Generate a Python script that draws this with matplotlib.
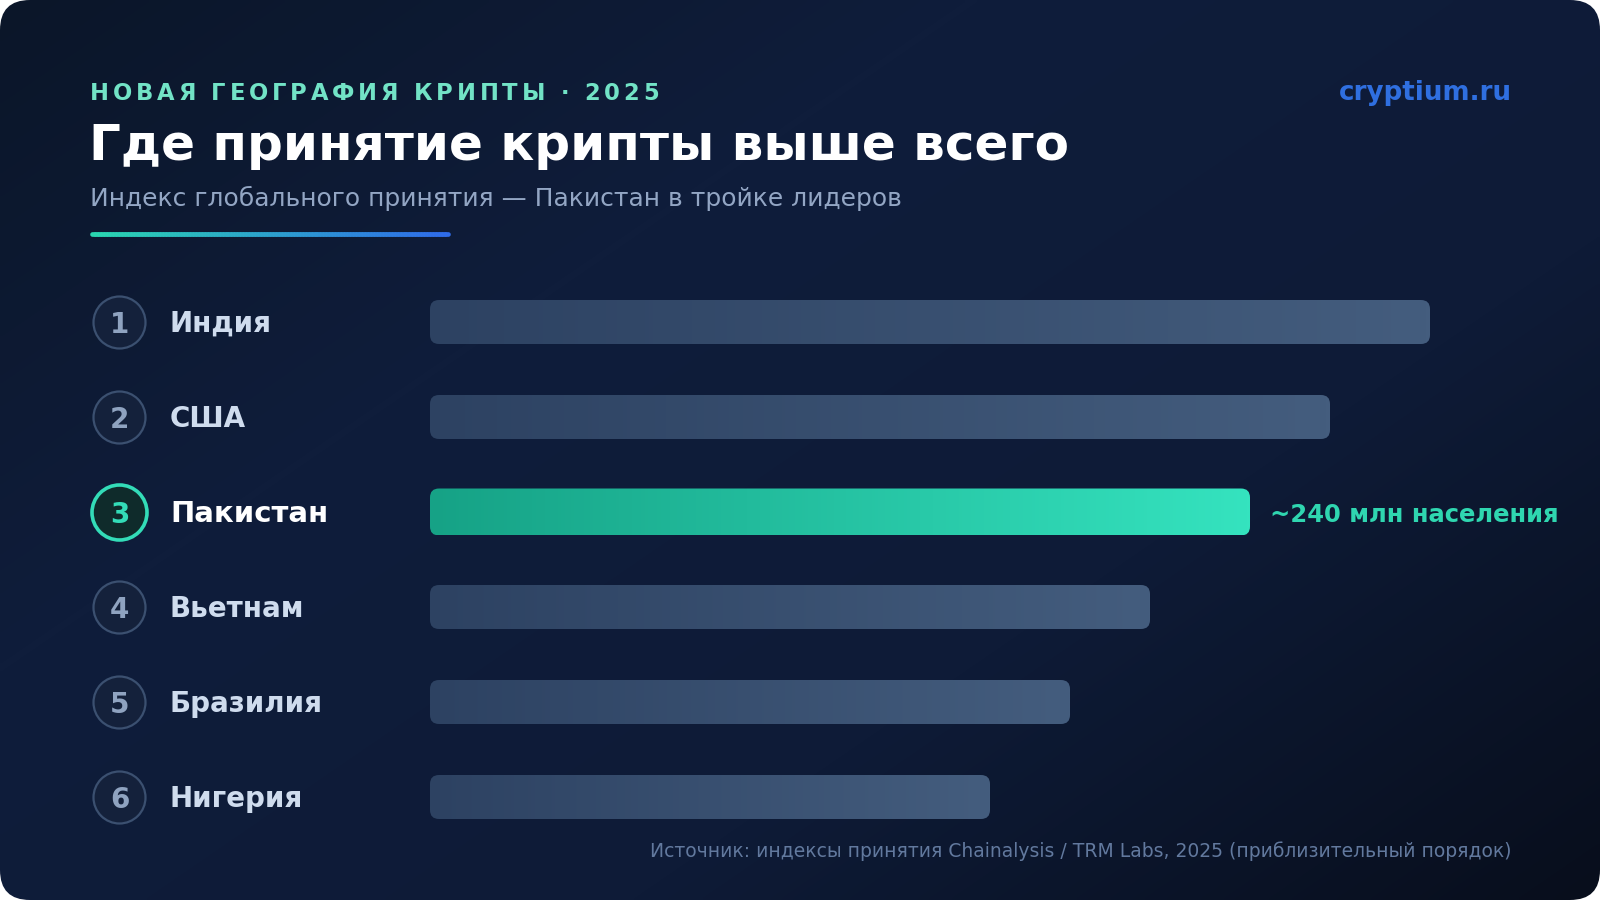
import numpy as np
import matplotlib.pyplot as plt
import matplotlib.transforms as mtransforms
from matplotlib.patches import FancyBboxPatch
from matplotlib.colors import LinearSegmentedColormap
from matplotlib.collections import LineCollection

# данные
countries = ['Индия', 'США', 'Пакистан', 'Вьетнам', 'Бразилия', 'Нигерия']
ranks = [1, 2, 3, 4, 5, 6]
scores = [100, 90, 82, 72, 64, 56]   # условный индекс принятия
highlight = 'Пакистан'
note = '~240 млн населения'

kicker = 'НОВАЯ ГЕОГРАФИЯ КРИПТЫ · 2025'
title = 'Где принятие крипты выше всего'
subtitle = 'Индекс глобального принятия — Пакистан в тройке лидеров'
brand = 'cryptium.ru'
source = 'Источник: индексы принятия Chainalysis / TRM Labs, 2025 (приблизительный порядок)'

plt.rcParams['font.family'] = ['DejaVu Sans']

W, H = 1600, 900
fig = plt.figure(figsize=(16, 9), dpi=100, facecolor='white')
ax = fig.add_axes([0, 0, 1, 1])   # оси в пикселях, начало сверху слева

# фон: диагональный градиент в скруглённой рамке
yy, xx = np.mgrid[0:1:225j, 0:1:400j]
t = (xx * 0.55 + yy * 0.45)
bg_cmap = LinearSegmentedColormap.from_list('bg', ['#0b1629', '#0f1d3b', '#0e1b37', '#080e1c'])
frame = FancyBboxPatch((0, 0), W, H, boxstyle='round,pad=0,rounding_size=30',
                       fc='none', ec='none')
ax.add_patch(frame)
im = ax.imshow(t, cmap=bg_cmap, extent=(0, W, H, 0), aspect='auto', zorder=0,
               interpolation='bilinear')
im.set_clip_path(frame)
ax.set_xlim(0, W)
ax.set_ylim(H, 0)
ax.axis('off')

fig.canvas.draw()
renderer = fig.canvas.get_renderer()

# надзаголовок с разрядкой
x = 90
for ch in kicker:
    tx = ax.text(x, 100, ch, fontsize=16.3, fontweight='bold', color='#72e3c6', va='baseline')
    w = tx.get_window_extent(renderer).width
    x += w + 3.8

ax.text(1512, 100, brand, fontsize=18.8, fontweight='bold', color='#2f6fe0',
        ha='right', va='baseline')
ax.text(89, 160, title, fontsize=36, fontweight='bold', color='white', va='baseline')
ax.text(90, 206, subtitle, fontsize=18, color='#93a6c4', va='baseline')

# градиентная черта
n = 120
xs = np.linspace(92, 448, n + 1)
segs = [[(xs[i], 234), (xs[i + 1], 234)] for i in range(n)]
line_cmap = LinearSegmentedColormap.from_list('ln', ['#2ad6b0', '#2f6ce9'])
lc = LineCollection(segs, colors=line_cmap(np.linspace(0, 1, n)), linewidths=3.4,
                    capstyle='round')
ax.add_collection(lc)

# оси для полос
bx = fig.add_axes([430 / W, (H - 844.5) / H, 1000 / W, 570 / H])
bx.set_xlim(0, 100)
bx.set_ylim(len(countries) - 0.5, -0.5)
bx.axis('off')
bx.patch.set_alpha(0)

px_x = 1000 / 100
px_y = 570 / len(countries)
grey_cmap = LinearSegmentedColormap.from_list('gr', ['#2d4262', '#445d7e'])
green_cmap = LinearSegmentedColormap.from_list('gn', ['#16a286', '#35e3bf'])
grad = np.linspace(0, 1, 256).reshape(1, -1)

blend = mtransforms.blended_transform_factory(ax.transData, bx.transData)

for i, (c, r, v) in enumerate(zip(countries, ranks, scores)):
    hl = c == highlight
    h = (47 if hl else 44) / px_y
    rad = 9 / px_x
    patch = FancyBboxPatch((0, i - h / 2), v, h,
                           boxstyle='round,pad=0,rounding_size=%f' % rad,
                           mutation_aspect=px_x / px_y, fc='none', ec='none')
    bx.add_patch(patch)
    img = bx.imshow(grad, cmap=green_cmap if hl else grey_cmap,
                    extent=(0, v, i + h / 2, i - h / 2), aspect='auto', zorder=2)
    img.set_clip_path(patch)

    # кружок с местом
    ax.scatter([119], [i], s=(55 if hl else 52) ** 2 * 0.5184, transform=blend,
               facecolor='#0f2b2b' if hl else '#14213b',
               edgecolor='#33dcb8' if hl else '#3b5070',
               linewidth=2.6 if hl else 1.6, zorder=3)
    ax.text(119.5, i, str(r), transform=blend, ha='center', va='center_baseline',
            fontsize=20, fontweight='bold',
            color='#33dcb8' if hl else '#8fa3c0', zorder=4)
    ax.text(170, i - 0.01, c, transform=blend, ha='left', va='center_baseline',
            fontsize=21 if hl else 20, fontweight='bold',
            color='white' if hl else '#cfdcee', zorder=4)
    if hl:
        bx.annotate(note, (v, i), xytext=(14.5, 0), textcoords='offset points',
                    ha='left', va='center_baseline', fontsize=17.5,
                    fontweight='bold', color='#2fd6b0', annotation_clip=False)

bx.set_xlim(0, 100)
bx.set_ylim(len(countries) - 0.5, -0.5)

ax.text(1511, 857, source, fontsize=13.5, color='#62799e', ha='right', va='baseline')

fig.savefig('out.png', dpi=100, facecolor='white')
